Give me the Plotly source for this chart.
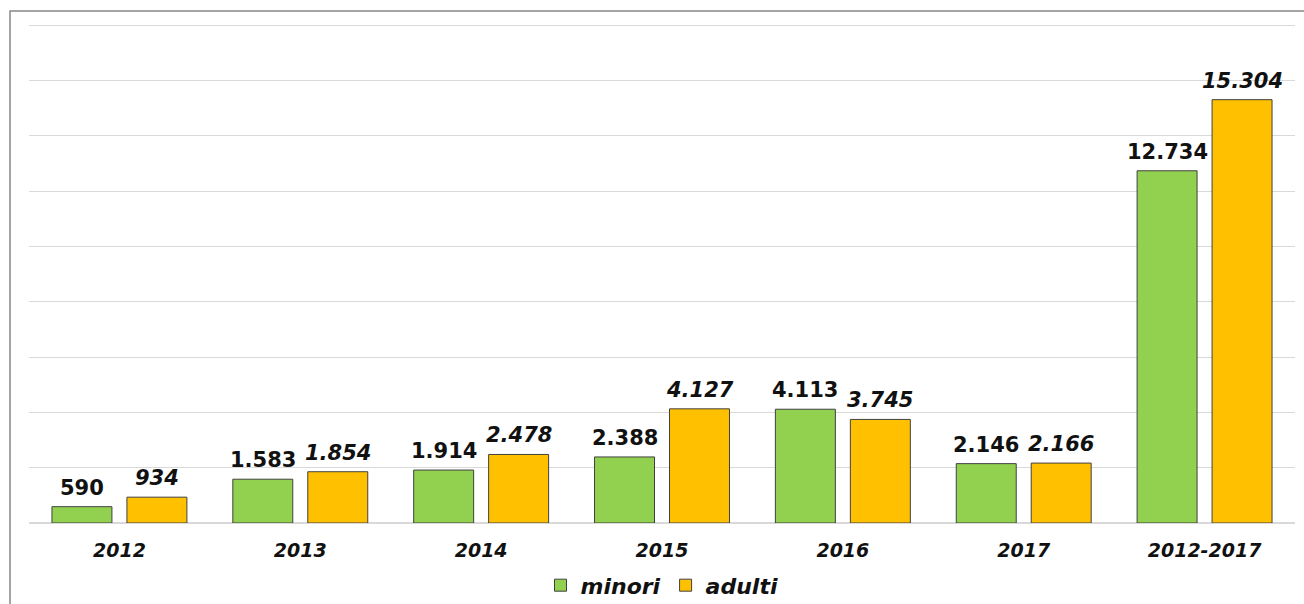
import plotly.graph_objects as go

# Categories and series values
categories = ["2012", "2013", "2014", "2015", "2016", "2017", "2012-2017"]
minori = [590, 1583, 1914, 2388, 4113, 2146, 12734]
adulti = [934, 1854, 2478, 4127, 3745, 2166, 15304]

GREEN = "#92D050"
ORANGE = "#FFC000"
FONT = "DejaVu Sans"

# one slot per category on the x axis
pos = list(range(len(categories)))


def fmt(v):
    return f"{v:,}".replace(",", ".")


fig = go.Figure()
fig.add_trace(go.Bar(
    name="minori", x=pos, y=minori,
    marker=dict(color=GREEN, line=dict(color="#404040", width=1)),
))
fig.add_trace(go.Bar(
    name="adulti", x=pos, y=adulti,
    marker=dict(color=ORANGE, line=dict(color="#404040", width=1)),
))

# Value labels above each bar
annotations = []
for p, m, a in zip(pos, minori, adulti):
    annotations.append(dict(
        x=p, y=m, xref="x", yref="y", text=fmt(m), showarrow=False,
        xshift=-37.5, yanchor="bottom", yshift=5,
        font=dict(family=FONT, size=21, color="#111111", weight="bold"),
    ))
    annotations.append(dict(
        x=p, y=a, xref="x", yref="y", text=fmt(a), showarrow=False,
        xshift=37.5, yanchor="bottom", yshift=5,
        font=dict(family=FONT, size=21, color="#111111", weight="bold", style="italic"),
    ))

fig.update_layout(
    width=1304, height=604,
    margin=dict(l=29, r=9, t=24, b=81, autoexpand=False),
    paper_bgcolor="white", plot_bgcolor="white",
    barmode="group", bargap=0.171, bargroupgap=0.2,
    showlegend=True,
    legend=dict(
        orientation="h", x=0.5, xanchor="center", y=-0.125, yanchor="middle",
        font=dict(family=FONT, size=22, color="#111111", weight="bold", style="italic"),
        itemwidth=30, traceorder="normal",
    ),
    annotations=annotations,
    shapes=[dict(
        type="rect", xref="paper", yref="paper",
        x0=-0.015, x1=1.02, y0=-0.2, y1=1.026,
        line=dict(color="#888888", width=1.5), fillcolor="rgba(0,0,0,0)", layer="below",
    )],
)

fig.update_xaxes(
    range=[-0.5, len(categories) - 0.5],
    tickvals=pos, ticktext=categories,
    showgrid=False, showline=False, zeroline=False,
    ticks="outside", ticklen=0, ticklabelstandoff=10,
    tickfont=dict(family=FONT, size=19, color="#111111", weight="bold", style="italic"),
)
fig.update_yaxes(
    range=[0, 18040], tickvals=list(range(0, 18001, 2000)), showticklabels=False,
    showgrid=True, gridcolor="#D9D9D9", gridwidth=1,
    zeroline=True, zerolinecolor="#D9D9D9", zerolinewidth=1.5,
    showline=False,
)

fig.write_html("out.html")
